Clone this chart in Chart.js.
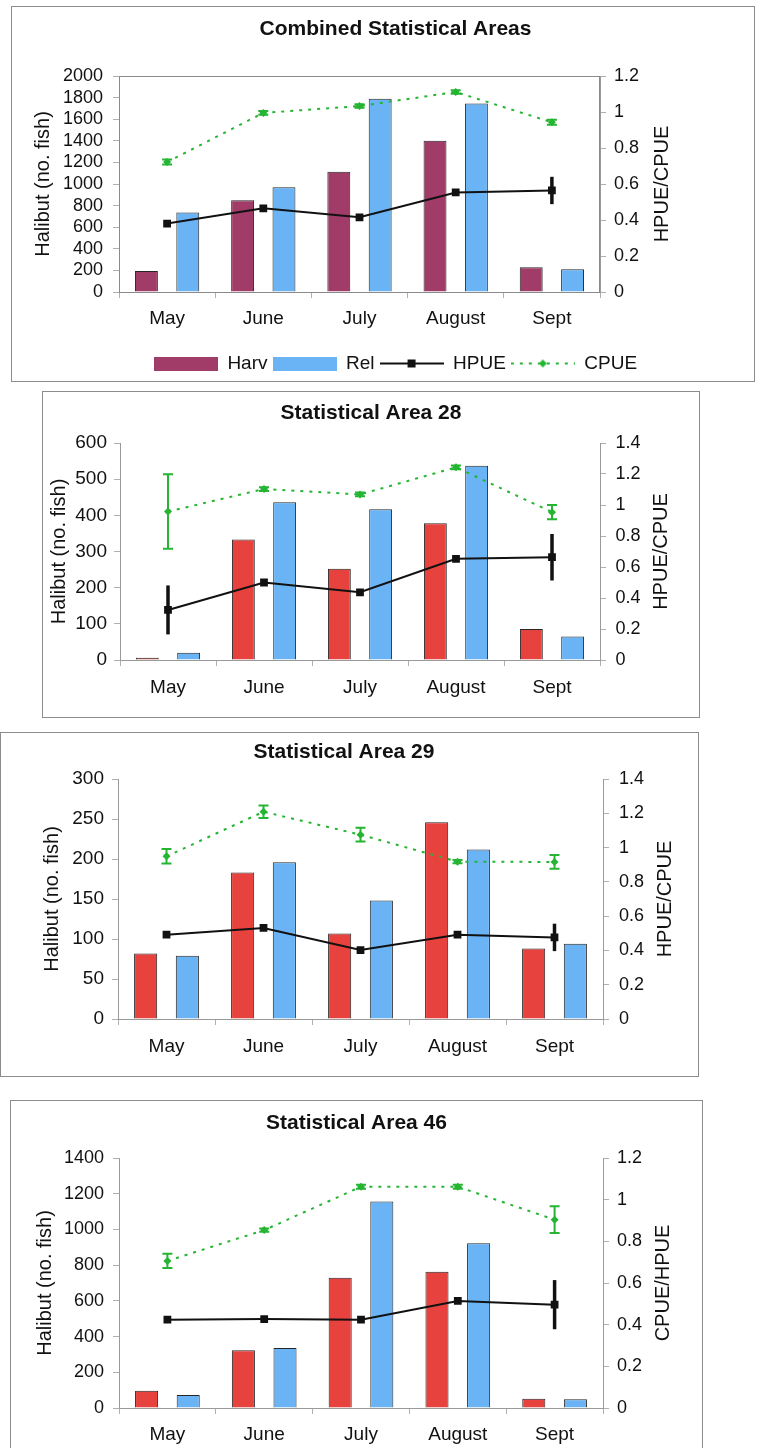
<!DOCTYPE html>
<html>
<head>
<meta charset="utf-8">
<title>Halibut harvest and release by month</title>
<script src="https://cdn.jsdelivr.net/npm/chart.js@4.4.1/dist/chart.umd.min.js"></script>
<style>
  html, body { margin: 0; padding: 0; background: #fff; }
  body { position: relative; width: 767px; height: 1448px; overflow: hidden; }
  .panel { position: absolute; border: 1px solid #8c8c8c; background: #fff; }
  .panel canvas { display: block; }
</style>
</head>
<body>
<div class="panel" style="left:11px; top:6px;"><canvas id="chartAll" width="742" height="374"></canvas></div>
<div class="panel" style="left:42px; top:391px;"><canvas id="chart28" width="656" height="325"></canvas></div>
<div class="panel" style="left:0px; top:732px;"><canvas id="chart29" width="697" height="343"></canvas></div>
<div class="panel" style="left:10px; top:1100px;"><canvas id="chart46" width="691" height="358"></canvas></div>

<script>
const months = ['May', 'June', 'July', 'August', 'Sept'];

// Combined Statistical Areas
const allHarv = [195, 850, 1113, 1401, 229];
const allRel = [735, 970, 1789, 1746, 211];
const allHpue = [0.38, 0.465, 0.415, 0.553, 0.564];
const allHpueErr = [0, 0, 0, 0, 0.076];
const allCpue = [0.722, 0.995, 1.033, 1.111, 0.943];
const allCpueErr = [0.014, 0.01, 0.01, 0.01, 0.014];

// Statistical Area 28
const a28Harv = [6, 333, 252, 378, 86];
const a28Rel = [20, 436, 417, 537, 65];
const a28Hpue = [0.323, 0.50, 0.437, 0.653, 0.663];
const a28HpueErr = [0.158, 0, 0, 0, 0.15];
const a28Cpue = [0.958, 1.103, 1.068, 1.243, 0.954];
const a28CpueErr = [0.24, 0.012, 0.012, 0.012, 0.046];

// Statistical Area 29
const a29Harv = [82, 183, 107, 246, 88];
const a29Rel = [79, 196, 148, 212, 94];
const a29Hpue = [0.492, 0.531, 0.402, 0.492, 0.476];
const a29HpueErr = [0, 0, 0, 0, 0.08];
const a29Cpue = [0.949, 1.209, 1.075, 0.918, 0.916];
const a29CpueErr = [0.042, 0.036, 0.04, 0.01, 0.04];

// Statistical Area 46
const a46Harv = [97, 323, 730, 763, 52];
const a46Rel = [73, 336, 1157, 922, 49];
const a46Hpue = [0.424, 0.427, 0.424, 0.514, 0.496];
const a46HpueErr = [0, 0, 0, 0, 0.118];
const a46Cpue = [0.706, 0.854, 1.062, 1.062, 0.904];
const a46CpueErr = [0.034, 0.008, 0.01, 0.01, 0.064];

const FONT = '"Liberation Sans", Arial, Helvetica, sans-serif';
const INK = '#111';
const AXIS = '#9a9a9a';
const TICK = '#b0b0b0';
const MAROON = '#a13b68';
const RED = '#e8423e';
const BLUE = '#6ab4f6';
const GREEN = '#25b533';

// --- error bars, drawn right after their line ---
const errorBars = {
  id: 'errorBars',
  afterDatasetDraw(chart, args) {
    const ds = chart.data.datasets[args.index];
    if (!ds.errors) return;
    const ctx = chart.ctx;
    const yScale = chart.scales[ds.yAxisID];
    ctx.save();
    ctx.setLineDash([]);
    ctx.strokeStyle = ds.errorColor;
    ctx.lineWidth = ds.errorWidth;
    args.meta.data.forEach((pt, i) => {
      const e = ds.errors[i];
      if (!e) return;
      const top = yScale.getPixelForValue(ds.data[i] + e);
      const bot = yScale.getPixelForValue(ds.data[i] - e);
      ctx.beginPath();
      ctx.moveTo(pt.x, top);
      ctx.lineTo(pt.x, bot);
      if (ds.errorCap) {
        ctx.moveTo(pt.x - ds.errorCap, top);
        ctx.lineTo(pt.x + ds.errorCap, top);
        ctx.moveTo(pt.x - ds.errorCap, bot);
        ctx.lineTo(pt.x + ds.errorCap, bot);
      }
      ctx.stroke();
    });
    ctx.restore();
  }
};

// --- right axis title, reads bottom to top like the left one ---
const rightTitle = {
  id: 'rightTitle',
  afterDraw(chart, args, opts) {
    if (!opts.text) return;
    const { ctx, chartArea } = chart;
    ctx.save();
    ctx.translate(chartArea.right + opts.offset, (chartArea.top + chartArea.bottom) / 2);
    ctx.rotate(-Math.PI / 2);
    ctx.font = '20px ' + FONT;
    ctx.fillStyle = INK;
    ctx.textAlign = 'center';
    ctx.textBaseline = 'middle';
    ctx.fillText(opts.text, 0, 0);
    ctx.restore();
  }
};

// --- frame round the plot area (top chart only) ---
const plotBox = {
  id: 'plotBox',
  beforeDatasetsDraw(chart, args, opts) {
    if (!opts.show) return;
    const { ctx, chartArea: a } = chart;
    ctx.save();
    ctx.strokeStyle = '#8a8a8a';
    ctx.lineWidth = 1;
    ctx.strokeRect(a.left + 0.5, a.top + 0.5, a.right - a.left - 1, a.bottom - a.top);
    ctx.restore();
  }
};

Chart.register(errorBars, rightTitle, plotBox);

// legend swatches
function swatch(draw) {
  const c = document.createElement('canvas');
  c.width = 64;
  c.height = 14;
  draw(c.getContext('2d'));
  return c;
}
const harvSwatch = swatch(g => { g.fillStyle = MAROON; g.fillRect(0, 0, 64, 14); });
const relSwatch = swatch(g => { g.fillStyle = BLUE; g.fillRect(0, 0, 64, 14); });
const hpueSwatch = swatch(g => {
  g.strokeStyle = INK; g.lineWidth = 2;
  g.beginPath(); g.moveTo(0, 7); g.lineTo(64, 7); g.stroke();
  g.fillStyle = INK; g.fillRect(28, 3, 8, 8);
});
const cpueSwatch = swatch(g => {
  g.strokeStyle = GREEN; g.lineWidth = 2; g.setLineDash([3, 6]);
  g.beginPath(); g.moveTo(0, 7); g.lineTo(64, 7); g.stroke();
  g.fillStyle = GREEN;
  g.beginPath(); g.moveTo(32, 3); g.lineTo(36, 7); g.lineTo(32, 11); g.lineTo(28, 7); g.closePath(); g.fill();
});

function legendItem(text, img, i) {
  return { text, pointStyle: img, fillStyle: 'transparent', strokeStyle: 'transparent', lineWidth: 0, hidden: false, datasetIndex: i, fontColor: INK };
}

function buildChart(id, o) {
  return new Chart(document.getElementById(id), {
    type: 'bar',
    data: {
      labels: months,
      datasets: [
        {
          type: 'line', label: 'HPUE', data: o.hpue, yAxisID: 'y1', order: 0,
          errors: o.hpueErr, errorColor: INK, errorWidth: 3.5, errorCap: 0,
          borderColor: INK, backgroundColor: INK, borderWidth: 2,
          pointStyle: 'rect', pointRadius: 5.5, pointBorderWidth: 0, tension: 0
        },
        {
          type: 'line', label: 'CPUE', data: o.cpue, yAxisID: 'y1', order: 1,
          errors: o.cpueErr, errorColor: GREEN, errorWidth: 2, errorCap: 5,
          borderColor: GREEN, backgroundColor: GREEN, borderWidth: 2, borderDash: [3, 6],
          pointStyle: 'rectRot', pointRadius: 4, pointBorderWidth: 0, tension: 0
        },
        {
          label: 'Harv', data: o.harv, yAxisID: 'y', order: 2,
          backgroundColor: o.harvColor, borderColor: '#262626', borderWidth: 1,
          categoryPercentage: 0.86, barPercentage: 0.554
        },
        {
          label: 'Rel', data: o.rel, yAxisID: 'y', order: 3,
          backgroundColor: BLUE, borderColor: '#262626', borderWidth: 1,
          categoryPercentage: 0.86, barPercentage: 0.554
        }
      ]
    },
    options: {
      responsive: false,
      animation: false,
      events: [],
      layout: { padding: o.pad },
      plugins: {
        title: {
          display: true, text: o.title, color: INK,
          font: { family: FONT, size: 21, weight: 'bold' },
          padding: o.titlePad
        },
        legend: o.legend ? {
          display: true, position: 'bottom',
          labels: {
            usePointStyle: true, pointStyleWidth: 64, padding: 5,
            color: INK, font: { family: FONT, size: 19 },
            generateLabels: () => [
              legendItem('Harv', harvSwatch, 2),
              legendItem('Rel', relSwatch, 3),
              legendItem('HPUE', hpueSwatch, 0),
              legendItem('CPUE', cpueSwatch, 1)
            ]
          }
        } : { display: false },
        tooltip: { enabled: false },
        rightTitle: { text: o.rightTitle, offset: o.rightOffset },
        plotBox: { show: !!o.box }
      },
      scales: {
        x: {
          grid: { offset: true, drawOnChartArea: false, tickLength: 6, color: TICK },
          border: { color: AXIS },
          ticks: { color: INK, font: { family: FONT, size: 19 }, padding: o.xPad, maxRotation: 0, autoSkip: false },
          afterFit: s => { s.height = o.xHeight; }
        },
        y: {
          position: 'left', min: 0, max: o.yMax,
          ticks: { stepSize: o.yStep, autoSkip: false, color: INK, font: { family: FONT, size: o.tickSize }, padding: o.yPad, callback: v => String(v) },
          grid: { drawOnChartArea: false, tickLength: 6, color: TICK },
          border: { color: AXIS },
          title: { display: true, text: 'Halibut (no. fish)', color: INK, font: { family: FONT, size: 20 }, padding: { top: o.leftTitleOffset, bottom: 0 } },
          afterFit: s => { s.width = o.leftWidth; }
        },
        y1: {
          position: 'right', min: 0, max: o.y1Max,
          ticks: { stepSize: 0.2, autoSkip: false, color: INK, font: { family: FONT, size: 18 }, padding: o.y1Pad, callback: v => String(Math.round(v * 10) / 10) },
          grid: { drawOnChartArea: false, tickLength: 6, color: TICK },
          border: { color: AXIS },
          afterFit: s => { s.width = o.rightWidth; }
        }
      }
    }
  });
}

buildChart('chartAll', {
  title: 'Combined Statistical Areas', rightTitle: 'HPUE/CPUE',
  harv: allHarv, rel: allRel, hpue: allHpue, hpueErr: allHpueErr, cpue: allCpue, cpueErr: allCpueErr,
  harvColor: MAROON, legend: true, box: true,
  yMax: 2000, yStep: 200, y1Max: 1.2, tickSize: 18,
  pad: { left: 25, bottom: -2 }, titlePad: { top: 9.9, bottom: 33.9 },
  leftWidth: 82, rightWidth: 154, xHeight: 57,
  leftTitleOffset: -5.5, rightOffset: 62, yPad: 10, y1Pad: 8, xPad: 9
});

buildChart('chart28', {
  title: 'Statistical Area 28', rightTitle: 'HPUE/CPUE',
  harv: a28Harv, rel: a28Rel, hpue: a28Hpue, hpueErr: a28HpueErr, cpue: a28Cpue, cpueErr: a28CpueErr,
  harvColor: RED,
  yMax: 600, yStep: 100, y1Max: 1.4, tickSize: 19,
  pad: {}, titlePad: { top: 8.7, bottom: 17.1 },
  leftWidth: 77, rightWidth: 99, xHeight: 57,
  leftTitleOffset: 4, rightOffset: 61, yPad: 7, y1Pad: 9.5, xPad: 10
});

buildChart('chart29', {
  title: 'Statistical Area 29', rightTitle: 'HPUE/CPUE',
  harv: a29Harv, rel: a29Rel, hpue: a29Hpue, hpueErr: a29HpueErr, cpue: a29Cpue, cpueErr: a29CpueErr,
  harvColor: RED,
  yMax: 300, yStep: 50, y1Max: 1.4, tickSize: 19,
  pad: { right: 11 }, titlePad: { top: 6.4, bottom: 14.4 },
  leftWidth: 117, rightWidth: 84, xHeight: 57,
  leftTitleOffset: 39.5, rightOffset: 62, yPad: 8, y1Pad: 10, xPad: 10.5
});

buildChart('chart46', {
  title: 'Statistical Area 46', rightTitle: 'CPUE/HPUE',
  harv: a46Harv, rel: a46Rel, hpue: a46Hpue, hpueErr: a46HpueErr, cpue: a46Cpue, cpueErr: a46CpueErr,
  harvColor: RED,
  yMax: 1400, yStep: 200, y1Max: 1.2, tickSize: 18,
  pad: {}, titlePad: { top: 10.1, bottom: 21.7 },
  leftWidth: 108, rightWidth: 99, xHeight: 51,
  leftTitleOffset: 22.5, rightOffset: 60, yPad: 9, y1Pad: 8, xPad: 9.6
});
</script>
</body>
</html>
